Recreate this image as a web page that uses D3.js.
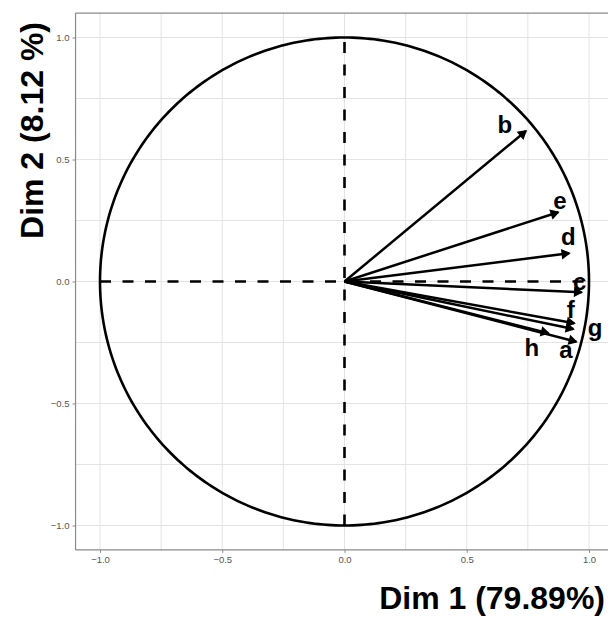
<!DOCTYPE html>
<html><head><meta charset="utf-8">
<script src="https://cdn.jsdelivr.net/npm/d3@7"></script>
<style>body{margin:0;background:#fff}svg{display:block}</style>
</head><body>
<script>
const variables = ["a","b","c","d","e","f","g","h"];
const dim1 = [0.948, 0.742, 0.970, 0.919, 0.874, 0.940, 0.936, 0.834];
const dim2 = [-0.247, 0.617, -0.044, 0.116, 0.284, -0.171, -0.195, -0.212];
// label anchor positions (repelled), in data units
const labelX = [0.906, 0.656, 0.962, 0.915, 0.881, 0.925, 1.025, 0.766];
const labelY = [-0.284, 0.641, -0.005, 0.181, 0.327, -0.117, -0.192, -0.274];
const tickValues = [-1.0, -0.5, 0.0, 0.5, 1.0];
const gridValues = [-1.0, -0.75, -0.5, -0.25, 0.0, 0.25, 0.5, 0.75, 1.0];
const xTitle = "Dim 1 (79.89%)";
const yTitle = "Dim 2 (8.12 %)";

const W = 608, H = 617;
const svg = d3.select("body").append("svg").attr("width", W).attr("height", H);
const x = d3.scaleLinear().domain([-1.1, 1.1]).range([75.55, 613.45]);
const y = d3.scaleLinear().domain([-1.1, 1.1]).range([549.9, 13.1]);
const font = "'Liberation Sans', Arial, Helvetica, sans-serif";

// grid
const g = svg.append("g");
g.selectAll(".gx").data(gridValues).enter().append("line")
  .attr("x1", d => x(d)).attr("x2", d => x(d)).attr("y1", y(1.1)).attr("y2", y(-1.1))
  .attr("stroke", "#e3e3e3").attr("stroke-width", 1);
g.selectAll(".gy").data(gridValues).enter().append("line")
  .attr("y1", d => y(d)).attr("y2", d => y(d)).attr("x1", x(-1.1)).attr("x2", x(1.1))
  .attr("stroke", "#e3e3e3").attr("stroke-width", 1);

// panel border (top) + axes
svg.append("line").attr("x1", x(-1.1)).attr("x2", x(1.1)).attr("y1", y(1.1)).attr("y2", y(1.1))
  .attr("stroke", "#8a8a8a").attr("stroke-width", 1.2);
const xAxis = d3.axisBottom(x).tickValues(tickValues).tickFormat(d3.format(".1f")).tickSize(3).tickPadding(3);
const yAxis = d3.axisLeft(y).tickValues(tickValues).tickFormat(d3.format(".1f")).tickSize(3).tickPadding(3);
const gx = svg.append("g").attr("transform", `translate(0,${y(-1.1)})`).call(xAxis);
const gy = svg.append("g").attr("transform", `translate(${x(-1.1)},0)`).call(yAxis);
[gx, gy].forEach(a => {
  a.select(".domain").attr("stroke", "#8a8a8a").attr("stroke-width", 1.2);
  a.selectAll(".tick line").attr("stroke", "#8a8a8a");
  a.selectAll(".tick text").attr("fill", "#555").style("font-family", font).style("font-size", "9.5px");
});
gx.select(".domain").attr("d", `M${x(-1.1)},0H${x(1.1)}`);
gy.select(".domain").attr("d", `M0,${y(1.1)}V${y(-1.1)}`);

// dashed axes lines
svg.append("line").attr("x1", x(-1)).attr("x2", x(1)).attr("y1", y(0)).attr("y2", y(0))
  .attr("stroke", "#000").attr("stroke-width", 2.6).attr("stroke-dasharray", "11,11.5");
svg.append("line").attr("x1", x(0)).attr("x2", x(0)).attr("y1", y(-1)).attr("y2", y(1))
  .attr("stroke", "#000").attr("stroke-width", 2.6).attr("stroke-dasharray", "11,11.5");

// circle
const circ = d3.range(0, 361, 1).map(a => [Math.cos(a * Math.PI / 180), Math.sin(a * Math.PI / 180)]);
svg.append("path").attr("d", d3.line().x(d => x(d[0])).y(d => y(d[1]))(circ))
  .attr("fill", "none").attr("stroke", "#000").attr("stroke-width", 2.6);

// arrows
const arrows = svg.append("g");
variables.forEach((v, i) => {
  const x0 = x(0), y0 = y(0), x1 = x(dim1[i]), y1 = y(dim2[i]);
  arrows.append("line").attr("x1", x0).attr("y1", y0).attr("x2", x1).attr("y2", y1)
    .attr("stroke", "#000").attr("stroke-width", 2.5);
  const ang = Math.atan2(y1 - y0, x1 - x0);
  const L = 8, A = Math.PI / 6;
  const p1 = [x1 - L * Math.cos(ang - A), y1 - L * Math.sin(ang - A)];
  const p2 = [x1 - L * Math.cos(ang + A), y1 - L * Math.sin(ang + A)];
  arrows.append("path").attr("d", `M${p1}L${x1},${y1}L${p2}Z`)
    .attr("fill", "#000").attr("stroke", "#000").attr("stroke-width", 1.5).attr("stroke-linejoin", "miter");
});

// labels
svg.append("g").selectAll("text").data(variables).enter().append("text")
  .attr("x", (d, i) => x(labelX[i])).attr("y", (d, i) => y(labelY[i]))
  .attr("dy", "0.32em").attr("text-anchor", "middle")
  .style("font-family", font).style("font-weight", "bold").style("font-size", "24px")
  .attr("fill", "#000").text(d => d);

// axis titles
svg.append("text").attr("x", 605).attr("y", 609).attr("text-anchor", "end")
  .style("font-family", font).style("font-weight", "bold").style("font-size", "32px").text(xTitle);
svg.append("text").attr("transform", "translate(43,22) rotate(-90)").attr("text-anchor", "end")
  .style("font-family", font).style("font-weight", "bold").style("font-size", "32px").text(yTitle);
</script>
</body></html>
